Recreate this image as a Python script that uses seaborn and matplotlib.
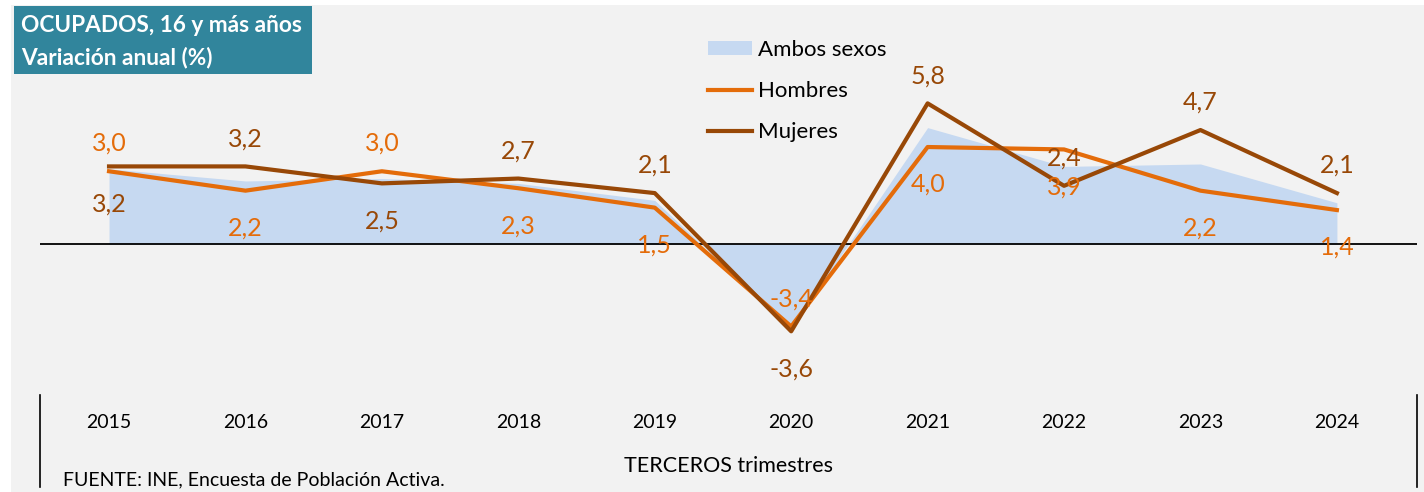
import matplotlib
matplotlib.use('Agg')
import matplotlib.pyplot as plt
import seaborn as sns
import pandas as pd
from matplotlib.patches import Rectangle, Patch
from matplotlib.lines import Line2D

years = ['2015', '2016', '2017', '2018', '2019', '2020', '2021', '2022', '2023', '2024']
ambos = [3.1, 2.6, 2.7, 2.5, 1.8, -3.5, 4.8, 3.2, 3.3, 1.7]
hombres = [3.0, 2.2, 3.0, 2.3, 1.5, -3.4, 4.0, 3.9, 2.2, 1.4]
mujeres = [3.2, 3.2, 2.5, 2.7, 2.1, -3.6, 5.8, 2.4, 4.7, 2.1]
# side of the data label: 1 above the line, -1 below
hombres_side = [1, -1, 1, -1, -1, 1, -1, -1, -1, -1]
mujeres_side = [-1, 1, -1, 1, 1, -1, 1, 1, 1, 1]

c_ambos = '#c6d9f1'
c_hom = '#e46c0a'
c_muj = '#984807'
bg = '#f2f2f2'

plt.rcParams['font.family'] = ['Lato', 'DejaVu Sans']

pos = list(range(len(years)))
df = pd.DataFrame({
  'pos': pos * 2,
  'valor': hombres + mujeres,
  'serie': ['Hombres'] * len(years) + ['Mujeres'] * len(years),
})

W, H = 1424, 492
fig = plt.figure(figsize=(W / 100, H / 100), dpi=100)
fig.patch.set_facecolor('white')
fig.add_artist(Rectangle((11 / W, 0), 1, 1 - 5 / H, transform=fig.transFigure,
                         facecolor=bg, edgecolor='none', zorder=-10))

ax = fig.add_axes([40 / W, 1 - 390 / H, (1417 - 40) / W, 380 / H])
ax.set_facecolor('none')

ax.fill_between(pos, ambos, 0, color=c_ambos, linewidth=0, zorder=1)
sns.lineplot(data=df, x='pos', y='valor', hue='serie',
             palette={'Hombres': c_hom, 'Mujeres': c_muj},
             linewidth=3, legend=False, ax=ax, zorder=3)
ax.axhline(0, color='black', linewidth=1.3, zorder=2)

for vals, sides, col in [(hombres, hombres_side, c_hom), (mujeres, mujeres_side, c_muj)]:
  for x, v, s in zip(pos, vals, sides):
    dy = 20 if s > 0 else -27
    ax.annotate(f'{v:.1f}'.replace('.', ','), (x, v), xytext=(0, dy),
                textcoords='offset points', ha='center', va='center',
                fontsize=18, color=col, zorder=4)

ax.set_xlim(-0.506, 9.587)
ax.set_ylim(-6.02, 9.65)
ax.set_xticks(pos)
ax.set_xticklabels(years, fontsize=14)
ax.tick_params(axis='x', length=0, pad=17)
ax.set_yticks([])
ax.set_xlabel(None)
ax.set_ylabel(None)
sns.despine(ax=ax, left=True, bottom=True)

for xp in (40, 1417):
  fig.add_artist(Line2D([xp / W, xp / W], [1 - 395 / H, 1 - 487 / H],
                        transform=fig.transFigure, color='black', linewidth=1.2))

fig.text(729 / W, 1 - 466 / H, 'TERCEROS trimestres', ha='center', va='center', fontsize=15.5)
fig.text(63 / W, 1 - 480 / H, 'FUENTE: INE, Encuesta de Población Activa.',
         ha='left', va='center', fontsize=14)

# title box
fig.add_artist(Rectangle((14 / W, 1 - 74 / H), (312 - 14) / W, 68 / H,
                         transform=fig.transFigure, facecolor='#31859c', edgecolor='none'))
fig.text(21 / W, 1 - 25 / H, 'OCUPADOS, 16 y más años', ha='left', va='center',
         fontsize=16.3, color='white', fontweight='bold')
fig.text(21 / W, 1 - 57 / H, 'Variación anual (%)', ha='left', va='center',
         fontsize=16.3, color='white', fontweight='bold')

handles = [Patch(facecolor=c_ambos, edgecolor='none'),
           Line2D([], [], color=c_hom, linewidth=3),
           Line2D([], [], color=c_muj, linewidth=3)]
fig.legend(handles, ['Ambos sexos', 'Hombres', 'Mujeres'], loc='upper left',
           bbox_to_anchor=(688 / W, 1 - 20 / H), frameon=False, fontsize=16,
           handlelength=2.0, handleheight=0.6, handletextpad=0.25, labelspacing=0.95)

fig.savefig('out.png', dpi=100, facecolor=fig.get_facecolor())
